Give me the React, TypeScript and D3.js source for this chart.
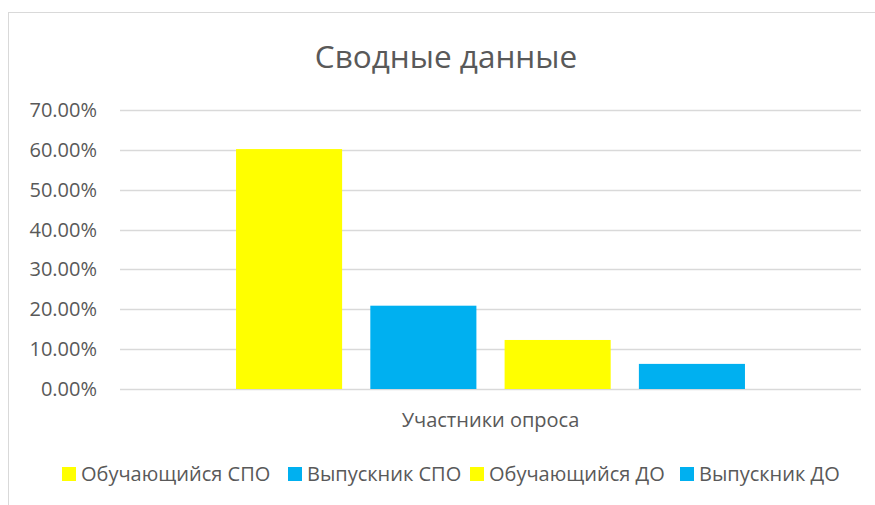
import * as d3 from 'd3';
import React, { useEffect, useRef } from 'react';

const categories = ['Участники опроса'];
const seriesNames = ['Обучающийся СПО', 'Выпускник СПО', 'Обучающийся ДО', 'Выпускник ДО'];
const seriesValues = [0.602, 0.209, 0.123, 0.063];
const seriesColors = ['#FFFF00', '#00B0F0', '#FFFF00', '#00B0F0'];
const yTicks = [0, 0.1, 0.2, 0.3, 0.4, 0.5, 0.6, 0.7];

const W = 875;
const H = 505;
const FONT = '"Open Sans", sans-serif';
const TEXT = '#595959';
const GRID = '#D9D9D9';

const App: React.FC = () => {
  const ref = useRef<SVGSVGElement>(null);

  useEffect(() => {
    const svg = d3.select(ref.current);
    svg.selectAll('*').remove();

    const margin = { top: 110, right: 14, bottom: 116, left: 120 };

    // chart frame (runs past the right/bottom edge like the original screenshot)
    svg.append('rect')
      .attr('x', 8.5).attr('y', 12.5)
      .attr('width', 1000).attr('height', 1000)
      .attr('fill', 'white')
      .attr('stroke', GRID);

    const y = d3.scaleLinear()
      .domain([0, 0.7])
      .range([H - margin.bottom, margin.top]);

    const x0 = d3.scaleBand<string>()
      .domain(categories)
      .range([margin.left, W - margin.right])
      .paddingOuter(0.228)
      .paddingInner(0);

    const x1 = d3.scaleBand<string>()
      .domain(seriesNames)
      .range([0, x0.bandwidth()])
      .paddingInner(0.21)
      .paddingOuter(0);

    // gridlines
    svg.append('g')
      .selectAll('line')
      .data(yTicks)
      .join('line')
      .attr('x1', margin.left)
      .attr('x2', W - margin.right)
      .attr('y1', d => Math.round(y(d)) + 0.5)
      .attr('y2', d => Math.round(y(d)) + 0.5)
      .attr('stroke', GRID)
      .attr('stroke-width', 1.3);

    // y labels
    svg.append('g')
      .selectAll('text')
      .data(yTicks)
      .join('text')
      .attr('x', 97)
      .attr('y', d => y(d) + 7)
      .attr('text-anchor', 'end')
      .attr('font-family', FONT)
      .attr('font-size', 20)
      .attr('fill', TEXT)
      .text(d => d3.format('.2%')(d));

    // bars
    const g = svg.append('g').attr('transform', `translate(${x0(categories[0])},0)`);
    g.selectAll('rect')
      .data(seriesValues)
      .join('rect')
      .attr('x', (_, i) => x1(seriesNames[i])!)
      .attr('y', d => y(d))
      .attr('width', x1.bandwidth())
      .attr('height', d => y(0) - y(d))
      .attr('fill', (_, i) => seriesColors[i]);

    // category label
    svg.append('text')
      .attr('x', x0(categories[0])! + x0.bandwidth() / 2)
      .attr('y', 427)
      .attr('text-anchor', 'middle')
      .attr('font-family', FONT)
      .attr('font-size', 20)
      .attr('fill', TEXT)
      .text(categories[0]);

    // title
    svg.append('text')
      .attr('x', 446)
      .attr('y', 68)
      .attr('text-anchor', 'middle')
      .attr('font-family', FONT)
      .attr('font-size', 31.5)
      .attr('fill', TEXT)
      .text('Сводные данные');

    // legend
    const legendX = [62, 288, 470, 680];
    const lg = svg.append('g');
    seriesNames.forEach((name, i) => {
      lg.append('rect')
        .attr('x', legendX[i]).attr('y', 467)
        .attr('width', 14).attr('height', 14)
        .attr('fill', seriesColors[i]);
      lg.append('text')
        .attr('x', legendX[i] + 19)
        .attr('y', 481)
        .attr('font-family', FONT)
        .attr('font-size', 20)
        .attr('fill', TEXT)
        .text(name);
    });
  }, []);

  return (
    <svg ref={ref} width={W} height={H}
      style={{ position: 'absolute', left: 0, top: 0, background: 'white' }} />
  );
};

export default App;
